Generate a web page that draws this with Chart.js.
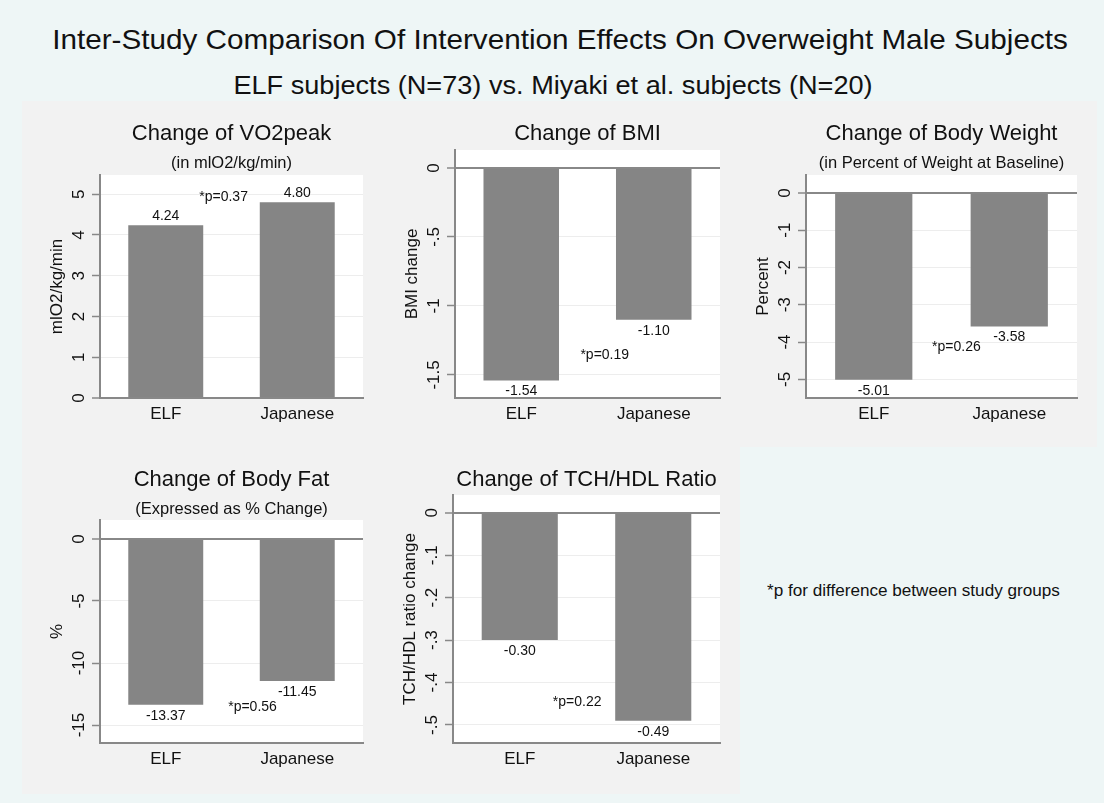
<!DOCTYPE html>
<html>
<head>
<meta charset="utf-8">
<script src="https://cdn.jsdelivr.net/npm/chart.js@4.4.1/dist/chart.umd.min.js"></script>
<style>
  body { margin:0; width:1104px; height:803px; background:#eef6f6; position:relative; overflow:hidden;
         font-family:"Liberation Sans", Arial, sans-serif; color:#111; }
  .head { position:absolute; white-space:nowrap; transform-origin:center center; }
  #title { left:560px; top:24px; font-size:28px; transform:translateX(-50%) scaleX(1.06); }
  #subtitle { left:553px; top:71px; font-size:25px; transform:translateX(-50%) scaleX(1.085); }
  #note { left:767px; top:582px; font-size:16px; transform-origin:left center; transform:scaleX(1.07); }
  canvas { position:absolute; background:#f2f2f2; }
</style>
</head>
<body>
<div class="head" id="title">Inter-Study Comparison Of Intervention Effects On Overweight Male Subjects</div>
<div class="head" id="subtitle">ELF subjects (N=73) vs. Miyaki et al. subjects (N=20)</div>
<div class="head" id="note">*p for difference between study groups</div>

<canvas id="vo2Chart" width="359" height="346" style="left:22px;top:101px"></canvas>
<canvas id="bmiChart" width="359" height="346" style="left:381px;top:101px"></canvas>
<canvas id="weightChart" width="357" height="346" style="left:740px;top:101px"></canvas>
<canvas id="fatChart" width="359" height="347" style="left:22px;top:447px"></canvas>
<canvas id="ratioChart" width="359" height="347" style="left:381px;top:447px"></canvas>

<script>
// data
const groups = ['ELF', 'Japanese'];

const vo2Change = [4.24, 4.80];
const bmiChange = [-1.54, -1.10];
const weightChange = [-5.01, -3.58];
const fatChange = [-13.37, -11.45];
const ratioChange = [-0.30, -0.49];

const vo2Ticks = [0, 1, 2, 3, 4, 5];
const vo2TickLabels = ['0', '1', '2', '3', '4', '5'];
const bmiTicks = [0, -0.5, -1, -1.5];
const bmiTickLabels = ['0', '-.5', '-1', '-1.5'];
const weightTicks = [0, -1, -2, -3, -4, -5];
const weightTickLabels = ['0', '-1', '-2', '-3', '-4', '-5'];
const fatTicks = [0, -5, -10, -15];
const fatTickLabels = ['0', '-5', '-10', '-15'];
const ratioTicks = [0, -0.1, -0.2, -0.3, -0.4, -0.5];
const ratioTickLabels = ['0', '-.1', '-.2', '-.3', '-.4', '-.5'];

const pValues = ['0.37', '0.19', '0.26', '0.56', '0.22'];

const FONT = '"Liberation Sans", Arial, sans-serif';
const INK = '#111';
const AXIS = '#888';

// panel setup: plot box inside each canvas, axis range, where the p note sits
const panels = [
  { id:'vo2Chart', values:vo2Change, ticks:vo2Ticks, tickLabels:vo2TickLabels,
    title:'Change of VO2peak', sub:'(in mlO2/kg/min)', yTitle:'mlO2/kg/min',
    min:0, max:5.47, box:[78, 74, 341, 297], pAt:[0.44, 4.93] },
  { id:'bmiChart', values:bmiChange, ticks:bmiTicks, tickLabels:bmiTickLabels,
    title:'Change of BMI', sub:'', yTitle:'BMI change',
    min:-1.667, max:0.13, box:[74, 49, 339, 297], pAt:[0.63, -1.36] },
  { id:'weightChart', values:weightChange, ticks:weightTicks, tickLabels:weightTickLabels,
    title:'Change of Body Weight', sub:'(in Percent of Weight at Baseline)', yTitle:'Percent',
    min:-5.5, max:0.48, box:[66, 74, 337, 297], pAt:[0.61, -4.14] },
  { id:'fatChart', values:fatChange, ticks:fatTicks, tickLabels:fatTickLabels,
    title:'Change of Body Fat', sub:'(Expressed as % Change)', yTitle:'%',
    min:-16.45, max:1.53, box:[78, 73, 341, 296], pAt:[0.66, -13.55] },
  { id:'ratioChart', values:ratioChange, ticks:ratioTicks, tickLabels:ratioTickLabels,
    title:'Change of TCH/HDL Ratio', sub:'', yTitle:'TCH/HDL ratio change',
    min:-0.5425, max:0.042, box:[72, 48, 339, 296], pAt:[0.43, -0.446] }
];

function text(ctx, str, x, y, size, opts) {
  opts = opts || {};
  ctx.save();
  ctx.translate(x, y);
  if (opts.rotate) ctx.rotate(opts.rotate);
  ctx.font = size + 'px ' + FONT;
  ctx.fillStyle = INK;
  ctx.textAlign = opts.align || 'center';
  ctx.textBaseline = 'middle';
  ctx.fillText(str, 0, 0);
  ctx.restore();
}

const panelDecor = {
  id: 'panelDecor',
  beforeDraw(chart) {
    const a = chart.chartArea, ctx = chart.ctx;
    ctx.save();
    ctx.fillStyle = '#ffffff';
    ctx.fillRect(a.left, a.top, a.right - a.left, a.bottom - a.top);
    ctx.restore();
  },
  afterDraw(chart) {
    const p = chart.options.plugins.panelDecor;
    const a = chart.chartArea, ctx = chart.ctx;
    const xs = chart.scales.x, ys = chart.scales.y;
    const cx = (a.left + a.right) / 2;

    text(ctx, p.title, cx, 33, 22);
    if (p.sub) text(ctx, p.sub, cx, 62, 16.5);

    ys.ticks.forEach((t, i) => {
      text(ctx, p.tickLabels[i], a.left - 21, ys.getPixelForValue(t.value), 17, { rotate: -Math.PI / 2 });
    });
    text(ctx, p.yTitle, a.left - 43, (a.top + a.bottom) / 2, 17, { rotate: -Math.PI / 2 });

    groups.forEach((g, i) => text(ctx, g, xs.getPixelForValue(i), a.bottom + 16, 17));

    chart.getDatasetMeta(0).data.forEach((bar, i) => {
      const v = p.values[i];
      text(ctx, v.toFixed(2), bar.x, v >= 0 ? bar.y - 9 : bar.y + 11, 14);
    });

    text(ctx, '*p=' + p.pValue, xs.getPixelForValue(p.pAt[0]), ys.getPixelForValue(p.pAt[1]), 14);
  }
};

panels.forEach((p, k) => {
  const canvas = document.getElementById(p.id);
  const W = canvas.width, H = canvas.height;
  new Chart(canvas, {
    type: 'bar',
    data: {
      labels: groups,
      datasets: [{
        data: p.values,
        backgroundColor: '#858585',
        barPercentage: 0.57,
        categoryPercentage: 1
      }]
    },
    plugins: [panelDecor],
    options: {
      responsive: false,
      animation: false,
      layout: { padding: { left: p.box[0] - 8, top: p.box[1], right: W - p.box[2], bottom: H - p.box[3] } },
      plugins: {
        legend: { display: false },
        title: { display: false },
        tooltip: { enabled: false },
        panelDecor: {
          title: p.title, sub: p.sub, yTitle: p.yTitle, tickLabels: p.tickLabels,
          values: p.values, pValue: pValues[k], pAt: p.pAt
        }
      },
      scales: {
        x: {
          offset: true,
          grid: { display: false, drawTicks: false },
          ticks: { display: false },
          border: { color: AXIS, width: 2 },
          afterFit(s) { s.height = 0; }
        },
        y: {
          min: p.min,
          max: p.max,
          ticks: { display: false },
          afterBuildTicks(s) { s.ticks = p.ticks.map(v => ({ value: v })); },
          afterFit(s) { s.width = 8; },
          grid: {
            color: c => (c.tick && c.tick.value === 0 ? AXIS : '#ededed'),
            lineWidth: c => (c.tick && c.tick.value === 0 ? 2 : 1),
            tickColor: AXIS,
            tickWidth: 1.5,
            tickLength: 8,
            drawTicks: true
          },
          border: { color: AXIS, width: 2 }
        }
      }
    }
  });
});
</script>
</body>
</html>
